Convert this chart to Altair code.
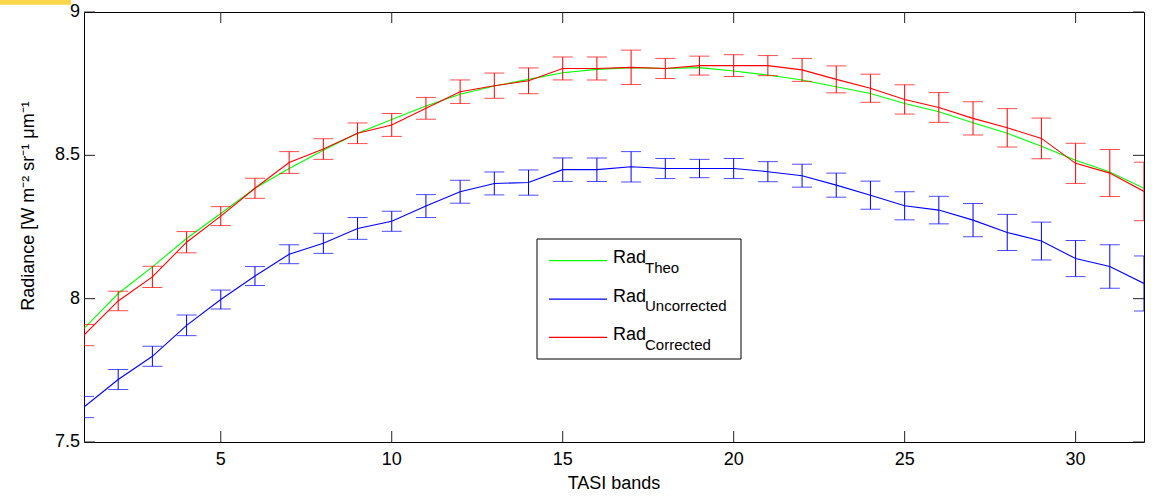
import altair as alt
import pandas as pd

# TASI band index and radiance series (W m-2 sr-1 um-1)
bands = list(range(1, 33))
rad_theo = [7.896, 8.018, 8.111, 8.210, 8.297, 8.385, 8.454, 8.518, 8.577, 8.625,
            8.672, 8.713, 8.742, 8.765, 8.788, 8.800, 8.806, 8.803, 8.806, 8.794,
            8.780, 8.763, 8.739, 8.716, 8.681, 8.652, 8.614, 8.577, 8.532, 8.483,
            8.442, 8.385]
rad_uncorrected = [7.622, 7.718, 7.799, 7.907, 7.997, 8.079, 8.155, 8.193, 8.245, 8.270,
                   8.323, 8.373, 8.402, 8.405, 8.450, 8.450, 8.460, 8.454, 8.454, 8.454,
                   8.443, 8.429, 8.396, 8.361, 8.324, 8.309, 8.274, 8.231, 8.201, 8.140,
                   8.112, 8.053]
err_uncorrected = [0.037, 0.035, 0.035, 0.036, 0.033, 0.033, 0.033, 0.035, 0.038, 0.035,
                   0.040, 0.040, 0.040, 0.044, 0.041, 0.041, 0.053, 0.035, 0.032, 0.035,
                   0.035, 0.040, 0.042, 0.049, 0.049, 0.048, 0.058, 0.063, 0.066, 0.063,
                   0.076, 0.096]
rad_corrected = [7.873, 7.992, 8.076, 8.197, 8.288, 8.385, 8.475, 8.522, 8.577, 8.606,
                 8.664, 8.722, 8.743, 8.760, 8.803, 8.803, 8.807, 8.803, 8.813, 8.813,
                 8.813, 8.798, 8.765, 8.734, 8.695, 8.667, 8.629, 8.596, 8.559, 8.472,
                 8.438, 8.374]
err_corrected = [0.037, 0.034, 0.037, 0.037, 0.033, 0.035, 0.038, 0.036, 0.036, 0.040,
                 0.038, 0.041, 0.044, 0.045, 0.040, 0.040, 0.060, 0.035, 0.033, 0.038,
                 0.035, 0.040, 0.047, 0.049, 0.051, 0.052, 0.058, 0.067, 0.071, 0.070,
                 0.082, 0.102]

series_names = ["Theo", "Uncorrected", "Corrected"]
series_colors = ["#00ff00", "#0000ff", "#ff0000"]

x_tick_values = [5, 10, 15, 20, 25, 30]
x_tick_labels = ["5", "10", "15", "20", "25", "30"]
y_tick_values = [7.5, 8.0, 8.5, 9.0]
y_tick_labels = ["7.5", "8", "8.5", "9"]

x_title = "TASI bands"
y_title = "Radiance [W m\u207b\u00b2 sr\u207b\u00b9 \u03bcm\u207b\u00b9"

W, H = 1060, 430
FONT = "Liberation Sans"
TICK_LEN = 11
TICK_COLOR = "#222222"

x_scale = alt.Scale(domain=[1, 32], nice=False, zero=False)
y_scale = alt.Scale(domain=[7.5, 9.0], nice=False, zero=False)


def frame(values, errors=None):
    df = pd.DataFrame({"band": bands, "rad": values})
    if errors is not None:
        df["lo"] = [v - e for v, e in zip(values, errors)]
        df["hi"] = [v + e for v, e in zip(values, errors)]
    return df


def bx():
    return alt.X("band:Q", scale=x_scale, axis=None)


def line_layer(df, color):
    return alt.Chart(df).mark_line(color=color, strokeWidth=1.1, clip=True).encode(
        x=bx(), y=alt.Y("rad:Q", scale=y_scale, axis=None))


def errorbar_layers(df, color):
    stem = alt.Chart(df).mark_rule(color=color, strokeWidth=1, clip=True).encode(
        x=bx(), y=alt.Y("lo:Q", scale=y_scale, axis=None), y2="hi:Q")
    cap_lo = alt.Chart(df).mark_tick(color=color, orient="horizontal", size=20,
                                     thickness=1, clip=True).encode(
        x=bx(), y=alt.Y("lo:Q", scale=y_scale, axis=None))
    cap_hi = alt.Chart(df).mark_tick(color=color, orient="horizontal", size=20,
                                     thickness=1, clip=True).encode(
        x=bx(), y=alt.Y("hi:Q", scale=y_scale, axis=None))
    return [stem, cap_lo, cap_hi]


# tick labels drawn through the shared scales
xt = pd.DataFrame({"v": x_tick_values, "label": x_tick_labels})
yt = pd.DataFrame({"v": y_tick_values, "label": y_tick_labels})
xv = alt.X("v:Q", scale=x_scale, axis=None)
yv = alt.Y("v:Q", scale=y_scale, axis=None)

tick_labels = [
    alt.Chart(xt).mark_text(font=FONT, fontSize=18, color="black", align="center",
                            baseline="top").encode(
        x=xv, y=alt.value(H + 9), text="label:N"),
    alt.Chart(yt).mark_text(font=FONT, fontSize=18, color="black", align="right",
                            baseline="middle").encode(
        y=yv, x=alt.value(-4), text="label:N"),
]

# inward tick marks on all four sides
ticks = [
    alt.Chart(xt).mark_rule(color=TICK_COLOR, strokeWidth=1).encode(
        x=xv, y=alt.value(H), y2=alt.value(H - TICK_LEN)),
    alt.Chart(xt).mark_rule(color=TICK_COLOR, strokeWidth=1).encode(
        x=xv, y=alt.value(0), y2=alt.value(TICK_LEN)),
    alt.Chart(yt).mark_rule(color=TICK_COLOR, strokeWidth=1).encode(
        y=yv, x=alt.value(0), x2=alt.value(TICK_LEN)),
    alt.Chart(yt).mark_rule(color=TICK_COLOR, strokeWidth=1).encode(
        y=yv, x=alt.value(W), x2=alt.value(W - TICK_LEN)),
]

theo_df = frame(rad_theo)
unc_df = frame(rad_uncorrected, err_uncorrected)
cor_df = frame(rad_corrected, err_corrected)

data_layers = (
    [line_layer(theo_df, series_colors[0])]
    + errorbar_layers(unc_df, series_colors[1]) + [line_layer(unc_df, series_colors[1])]
    + errorbar_layers(cor_df, series_colors[2]) + [line_layer(cor_df, series_colors[2])]
)

one = pd.DataFrame({"k": [0]})

# legend box with subscripted entries
legend = [
    alt.Chart(one).mark_rect(fill="white", stroke="black", strokeWidth=1).encode(
        x=alt.value(453), x2=alt.value(657), y=alt.value(227), y2=alt.value(347))
]
for i, (name, color) in enumerate(zip(series_names, series_colors)):
    base_y = 251.3 + 38.35 * i
    legend += [
        alt.Chart(one).mark_rule(color=color, strokeWidth=1.2).encode(
            x=alt.value(465), x2=alt.value(523), y=alt.value(base_y - 2.6)),
        alt.Chart(one).mark_text(text="Rad", font=FONT, fontSize=18, color="black",
                                 align="left", baseline="alphabetic").encode(
            x=alt.value(529), y=alt.value(base_y)),
        alt.Chart(one).mark_text(text=name, font=FONT, fontSize=15, color="black",
                                 align="left", baseline="alphabetic").encode(
            x=alt.value(561), y=alt.value(base_y + 9.5)),
    ]

titles = [
    alt.Chart(one).mark_text(text=x_title, font=FONT, fontSize=18, color="black",
                             align="center", baseline="alphabetic").encode(
        x=alt.value(W / 2), y=alt.value(477.3)),
    alt.Chart(one).mark_text(text=y_title, font=FONT, fontSize=18, color="black",
                             align="center", baseline="middle", angle=270).encode(
        x=alt.value(-55), y=alt.value(194)),
    alt.Chart(one).mark_rect(color="#ffd54a").encode(
        x=alt.value(-84), x2=alt.value(-13), y=alt.value(-12), y2=alt.value(-7.3)),
]

chart = alt.layer(*ticks, *tick_labels, *data_layers, *legend, *titles).properties(
    width=W, height=H,
    padding={"left": 84, "top": 12, "right": 10, "bottom": 55},
    autosize=alt.AutoSizeParams(type="none"),
    background="white",
).configure_view(stroke="black", strokeWidth=1)

chart.save("out.html", embed_options={"renderer": "svg", "actions": False})
